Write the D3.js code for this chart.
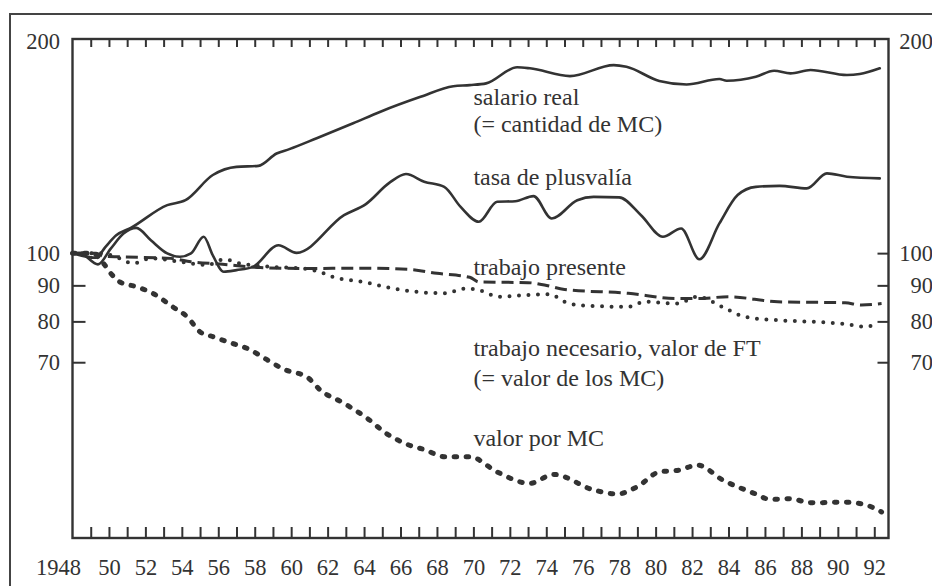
<!DOCTYPE html>
<html>
<head>
<meta charset="utf-8">
<script src="https://cdn.jsdelivr.net/npm/d3@7"></script>
<style>
  body { margin: 0; background: #fff; }
  svg, svg text { font-family: "Liberation Serif", "Times New Roman", Times, "DejaVu Serif", serif; }
</style>
</head>
<body>
<script>
// values (year, index 1948 = 100)
const salarioReal = [[1948,100],[1949.3,98.5],[1949.8,102],[1950.4,106],[1951.2,108.6],[1953.2,117],[1954.2,118.9],[1955.7,129.1],[1957.0,132.6],[1958.2,133],[1959.2,138.5],[1959.9,140.5],[1961.4,145.6],[1963.4,152.9],[1964.9,158.8],[1967.1,166.7],[1968.9,172.6],[1969.8,173.2],[1970.7,174.2],[1972.4,183.6],[1973.1,183],[1975.3,178.4],[1977.7,184.9],[1978.4,183.9],[1980.2,175.6],[1981.7,173.6],[1983.5,176.7],[1983.9,175.7],[1985.5,178],[1986.5,181.5],[1987.4,180],[1988.5,182],[1990.5,179],[1991.2,179.6],[1992.3,183]]

const tasaPlusvalia = [[1948,100],[1948.4,100],[1949.4,96.4],[1950.1,101.5],[1950.8,106.6],[1951.5,108.6],[1952.3,104.3],[1953.2,99.9],[1953.9,98.8],[1954.5,99.9],[1955.2,105.5],[1955.7,99.3],[1956.3,94.1],[1957.0,94.6],[1957.9,95.6],[1959.3,102.6],[1960.3,100.1],[1962.9,113.2],[1964.1,117.4],[1965.4,125.9],[1966.3,129.5],[1967.3,126.3],[1968.4,124.2],[1969.3,116.3],[1970.3,110.8],[1971.3,118.3],[1972.3,118.5],[1973.3,120.5],[1974.3,112],[1975.7,118.9],[1976.6,120.2],[1978.0,120],[1979.2,113.2],[1980.4,105.5],[1981.4,108.4],[1982.4,98],[1983.5,110.2],[1984.5,120.9],[1985.5,124.2],[1986.8,124.6],[1988.3,123.6],[1989.4,129.8],[1990.5,128.4],[1992.3,127.7]]

const trabajoPresente = [[1948,100],[1949.3,100],[1949.7,99],[1950.6,98.8],[1953.4,98.3],[1954.5,97.2],[1956.1,96.5],[1958.3,95.4],[1960.7,95.1],[1964.2,95.2],[1966.5,94.8],[1968,93.6],[1969.8,92.4],[1970.3,91],[1973,90.8],[1973.9,90.1],[1975,88.8],[1978.5,87.7],[1981.2,86.2],[1982.3,86.2],[1984,86.7],[1986.7,85.3],[1990.4,85],[1991.3,84.4],[1992.4,84.8]]

const trabajoNecesario = [[1948,100],[1949.5,100],[1950.6,98.3],[1951.3,96.7],[1952.3,98.3],[1953.9,97.2],[1955.4,96.2],[1956.3,98],[1957.2,96.7],[1959,95.6],[1960.7,95.1],[1961.8,93.6],[1962.3,92.5],[1964.2,90.8],[1965.1,89.6],[1966.9,88.1],[1968.4,87.7],[1969.6,89.1],[1970.3,88.6],[1971.4,86.7],[1972.9,87.2],[1974.2,87.4],[1975,85.3],[1975.7,84.4],[1978.5,83.9],[1979.4,85.3],[1981.2,84.8],[1982.3,86.7],[1983.8,83.5],[1984.9,81.2],[1986.7,80.3],[1988.6,79.9],[1990.4,79.3],[1991.5,78.6],[1992.2,79.4]]

const valorPorMC = [[1948,100],[1949.1,100],[1949.7,96.7],[1950.1,93.6],[1950.6,91],[1951.5,89.6],[1952.4,87.7],[1953.5,83.9],[1954.3,81.2],[1955,77.3],[1955.7,76.1],[1956.8,74.4],[1957.6,73.2],[1958.7,70.5],[1959.6,68.4],[1960.9,66.6],[1961.6,63.9],[1962.9,61.2],[1964.2,58.2],[1965.2,55.5],[1966.3,53.6],[1967.4,52.5],[1968.4,51.4],[1969.8,51.4],[1971.3,48.9],[1973.1,47.1],[1974.4,48.5],[1976.6,46.1],[1977.9,45.5],[1979,46.6],[1980.2,48.9],[1981.3,49.2],[1982.3,50],[1983.7,47.6],[1985.4,45.6],[1986.3,44.7],[1987.4,44.8],[1988.5,44.2],[1990.3,44.3],[1991.4,44],[1992.4,42.9]]

const yTicks = [70, 80, 90, 100, 200]
const yearTicks = d3.range(1949, 1993)
const yearLabels = d3.range(1948, 1993, 2)

const labels = [
    ["salario real", 105],
    ["(= cantidad de MC)", 132],
    ["tasa de plusvalía", 185],
    ["trabajo presente", 275],
    ["trabajo necesario, valor de FT", 356],
    ["(= valor de los MC)", 386],
    ["valor por MC", 446]
]

const w = 932
const h = 586
const plotLeft = 72.5, plotRight = 888.5, plotTop = 39, plotBottom = 538
const ink = "#333"
const serif = "'Liberation Serif', 'Times New Roman', Times, 'DejaVu Serif', serif"

const svg = d3.select("body")
              .append("svg")
              .attr("width", w)
              .attr("height", h)
              .attr("font-family", serif)

svg.append("rect").attr("width", w).attr("height", h).attr("fill", "#fff")

// frame of the cropped page (top and left only)
svg.append("path")
   .attr("d", "M10,586 V14 H932")
   .attr("fill", "none")
   .attr("stroke", "#444")
   .attr("stroke-width", 2)

const x = d3.scaleLinear().domain([1948, 1992.78]).range([plotLeft, plotRight])
const y = d3.scaleLog().domain([39.4, 201.4]).range([plotBottom, plotTop])

// box
svg.append("rect")
   .attr("x", plotLeft).attr("y", plotTop)
   .attr("width", plotRight - plotLeft).attr("height", plotBottom - plotTop)
   .attr("fill", "none")
   .attr("stroke", ink)
   .attr("stroke-width", 2.4)

const styleAxis = (g) => {
    g.attr("font-family", serif).attr("font-size", 22.5)
    g.select(".domain").remove()
    g.selectAll("line").attr("stroke", ink).attr("stroke-width", 2)
    g.selectAll("text").attr("fill", ink)
}

// year ticks, bottom and top
svg.append("g").attr("transform", `translate(0,${plotBottom})`)
   .call(d3.axisBottom(x).tickValues(yearTicks).tickSize(-11).tickFormat(""))
   .call(styleAxis)
svg.append("g").attr("transform", `translate(0,${plotTop})`)
   .call(d3.axisTop(x).tickValues(yearTicks).tickSize(-8).tickFormat(""))
   .call(styleAxis)

const xLab = svg.append("g").attr("transform", `translate(0,${plotBottom})`)
   .call(d3.axisBottom(x).tickValues(yearLabels).tickSize(0).tickPadding(21)
           .tickFormat(d => d === 1948 ? "1948" : String(d).slice(2)))
   .call(styleAxis)
xLab.selectAll("text").filter(d => d === 1948).attr("text-anchor", "end").attr("x", 8)

// value ticks, left and right
const yl = svg.append("g").attr("transform", `translate(${plotLeft},0)`)
   .call(d3.axisLeft(y).tickValues(yTicks).tickSize(-13).tickPadding(12.5).tickFormat(d3.format("d")))
   .call(styleAxis)
yl.selectAll("line").filter(d => d === 200).remove()

const yr = svg.append("g").attr("transform", `translate(${plotRight},0)`)
   .call(d3.axisRight(y).tickValues(yTicks).tickSize(-11).tickPadding(0).tickFormat(d3.format("d")))
   .call(styleAxis)
yr.selectAll("line").filter(d => d === 200).remove()
yr.selectAll("text").attr("text-anchor", "end").attr("x", w + 1 - plotRight)

// series
const line = d3.line().x(d => x(d[0])).y(d => y(d[1])).curve(d3.curveMonotoneX)

const series = [
    { data: salarioReal, width: 2.6, dash: null, cap: "round" },
    { data: tasaPlusvalia, width: 2.6, dash: null, cap: "round" },
    { data: trabajoPresente, width: 3, dash: "12 6", cap: "butt" },
    { data: trabajoNecesario, width: 4, dash: "0 9.5", cap: "round" },
    { data: valorPorMC, width: 5, dash: "2.5 9.5", cap: "round" }
]

svg.append("g").selectAll("path")
   .data(series)
   .enter()
   .append("path")
   .attr("d", d => line(d.data))
   .attr("fill", "none")
   .attr("stroke", ink)
   .attr("stroke-width", d => d.width)
   .attr("stroke-dasharray", d => d.dash)
   .attr("stroke-linecap", d => d.cap)
   .attr("stroke-linejoin", "round")

// curve labels
svg.append("g").selectAll("text")
   .data(labels)
   .enter()
   .append("text")
   .attr("x", x(1970))
   .attr("y", d => d[1])
   .attr("font-size", 24)
   .attr("fill", ink)
   .text(d => d[0])
</script>
</body>
</html>
